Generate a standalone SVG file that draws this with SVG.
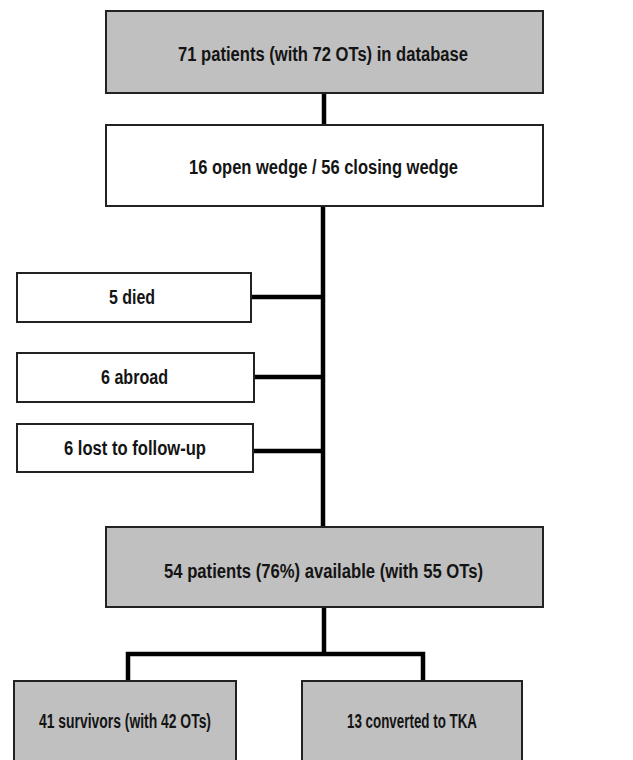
<svg xmlns="http://www.w3.org/2000/svg" width="633" height="760" viewBox="0 0 633 760">
<style>
.box{stroke:#222;stroke-width:2}
.g{fill:#c0c0c0}
.w{fill:#fff}
.t{font-family:"Liberation Sans",Arial,sans-serif;font-weight:bold;font-size:20px;fill:#141414;text-anchor:middle}
.c{stroke:#000;stroke-width:4.5;fill:none}
</style>
<rect width="633" height="760" fill="#fff"/>
<g id="connectors">
<line class="c" x1="324" y1="93" x2="324" y2="125"/>
<line class="c" x1="323" y1="206" x2="323" y2="527"/>
<line class="c" x1="251" y1="297" x2="323" y2="297"/>
<line class="c" x1="254" y1="377" x2="323" y2="377"/>
<line class="c" x1="253" y1="451" x2="323" y2="451"/>
<line class="c" x1="324" y1="607" x2="324" y2="654"/>
<polyline class="c" points="128,681 128,654 423,654 423,681"/>
</g>
<g id="n1"><rect class="box g" x="106" y="11" width="437" height="82"/><text class="t" x="323" y="61" textLength="290" lengthAdjust="spacingAndGlyphs">71 patients (with 72 OTs) in database</text></g>
<g id="n2"><rect class="box w" x="106" y="125" width="437" height="81"/><text class="t" x="323.5" y="174" textLength="269" lengthAdjust="spacingAndGlyphs">16 open wedge / 56 closing wedge</text></g>
<g id="n3"><rect class="box w" x="17" y="273" width="234" height="49"/><text class="t" x="132" y="304" textLength="46" lengthAdjust="spacingAndGlyphs">5 died</text></g>
<g id="n4"><rect class="box w" x="17" y="353" width="237" height="49"/><text class="t" x="134.5" y="384" textLength="67" lengthAdjust="spacingAndGlyphs">6 abroad</text></g>
<g id="n5"><rect class="box w" x="17" y="424" width="236" height="48"/><text class="t" x="135" y="455" textLength="142" lengthAdjust="spacingAndGlyphs">6 lost to follow-up</text></g>
<g id="n6"><rect class="box g" x="106" y="527" width="437" height="80"/><text class="t" x="323.5" y="578" textLength="319" lengthAdjust="spacingAndGlyphs">54 patients (76%) available (with 55 OTs)</text></g>
<g id="n7"><rect class="box g" x="14" y="681" width="222" height="85"/><text class="t" x="125" y="728" textLength="172" lengthAdjust="spacingAndGlyphs">41 survivors (with 42 OTs)</text></g>
<g id="n8"><rect class="box g" x="302" y="681" width="220" height="85"/><text class="t" x="412" y="728" textLength="130" lengthAdjust="spacingAndGlyphs">13 converted to TKA</text></g>
</svg>
